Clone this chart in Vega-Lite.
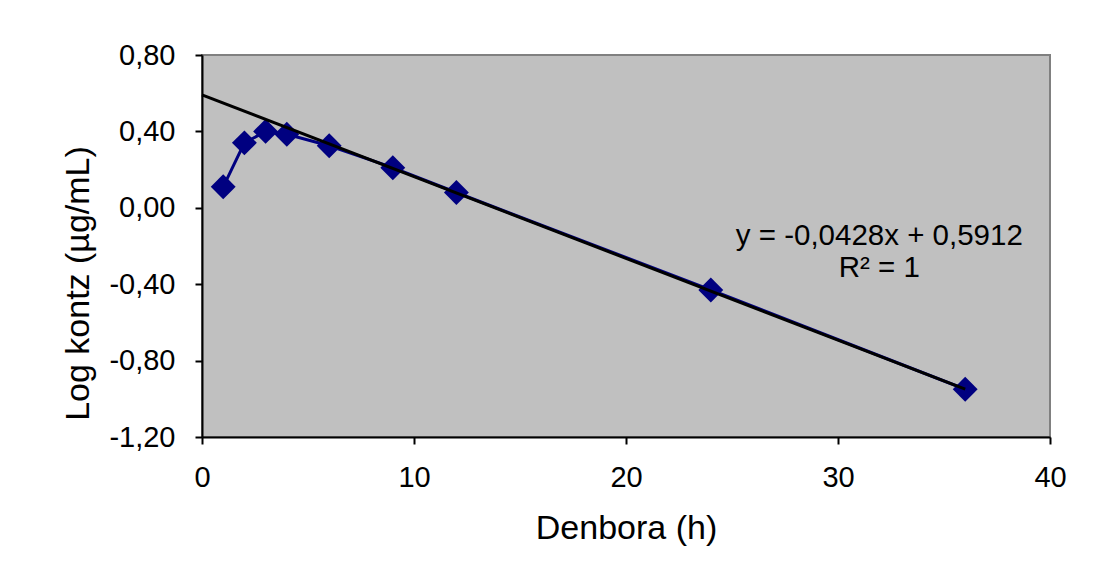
{
  "$schema": "https://vega.github.io/schema/vega-lite/v6.json",
  "autosize": "none",
  "width": 848,
  "height": 382,
  "padding": {"left": 202, "top": 55, "right": 48, "bottom": 136},
  "background": "white",
  "config": {
    "font": "Liberation Sans",
    "view": {"fill": "#C0C0C0", "stroke": "#808080", "strokeWidth": 2},
    "axis": {
      "domainColor": "black", "domainWidth": 2,
      "tickColor": "black", "tickWidth": 2, "tickSize": 7,
      "labelColor": "black", "labelFont": "Liberation Sans", "labelFontSize": 29,
      "titleColor": "black", "titleFont": "Liberation Sans", "titleFontSize": 34, "titleFontWeight": "normal",
      "grid": false
    }
  },
  "datasets": {
    "obs": [
      {"t": 1, "logc": 0.11},
      {"t": 2, "logc": 0.34},
      {"t": 3, "logc": 0.40},
      {"t": 4, "logc": 0.385},
      {"t": 6, "logc": 0.325},
      {"t": 9, "logc": 0.21},
      {"t": 12, "logc": 0.08},
      {"t": 24, "logc": -0.43},
      {"t": 36, "logc": -0.95}
    ],
    "trend": [
      {"t": 0, "logc": 0.5912},
      {"t": 36, "logc": -0.9496}
    ]
  },
  "layer": [
    {
      "data": {"name": "obs"},
      "mark": {"type": "line", "color": "#000080", "strokeWidth": 3},
      "encoding": {
        "x": {
          "field": "t", "type": "quantitative",
          "scale": {"domain": [0, 40], "nice": false, "zero": false},
          "axis": {
            "title": "Denbora (h)", "values": [0, 10, 20, 30, 40], "format": "d",
            "labelPadding": 19, "labelFlush": false,
            "titleY": 101, "titleBaseline": "alphabetic"
          }
        },
        "y": {
          "field": "logc", "type": "quantitative",
          "scale": {"domain": [-1.2, 0.8], "nice": false, "zero": false},
          "axis": {
            "title": "Log kontz (µg/mL)",
            "values": [-1.2, -0.8, -0.4, 0, 0.4, 0.8],
            "labelExpr": "replace(replace(format(datum.value, '.2f'), '.', ','), '\u2212', '-')",
            "labelPadding": 20, "labelFlush": false,
            "titleX": -124, "titleY": 228, "titleAngle": -90, "titleBaseline": "middle", "titleAlign": "center"
          }
        }
      }
    },
    {
      "data": {"name": "obs"},
      "mark": {"type": "point", "shape": "diamond", "filled": true, "color": "#000080", "opacity": 1, "size": 620},
      "encoding": {
        "x": {"field": "t", "type": "quantitative"},
        "y": {"field": "logc", "type": "quantitative"}
      }
    },
    {
      "data": {"name": "trend"},
      "mark": {"type": "line", "color": "black", "strokeWidth": 3},
      "encoding": {
        "x": {"field": "t", "type": "quantitative"},
        "y": {"field": "logc", "type": "quantitative"}
      }
    },
    {
      "data": {"values": [{"label": ["y = -0,0428x + 0,5912", "R² = 1"]}]},
      "mark": {"type": "text", "fontSize": 29.5, "color": "black", "align": "center", "baseline": "alphabetic", "lineHeight": 32, "font": "Liberation Sans"},
      "encoding": {
        "x": {"datum": 31.95, "type": "quantitative"},
        "y": {"datum": -0.195, "type": "quantitative"},
        "text": {"field": "label"}
      }
    }
  ]
}
